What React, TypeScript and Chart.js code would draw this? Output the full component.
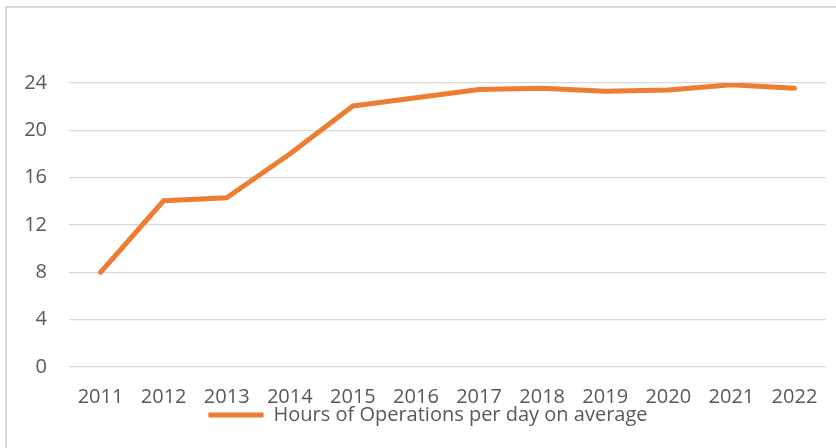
import React, { useEffect, useRef } from "react";
import { Chart, registerables } from "chart.js";

Chart.register(...registerables);

const years = ["2011", "2012", "2013", "2014", "2015", "2016", "2017", "2018", "2019", "2020", "2021", "2022"];
const hoursPerDay = [8.0, 14.05, 14.3, 18.0, 22.05, 22.75, 23.45, 23.55, 23.3, 23.4, 23.85, 23.55];
const seriesLabel = "Hours of Operations per day on average";
const yTicks = { min: 0, max: 24, step: 4 };

const legendShift = {
  id: "legendShift",
  afterLayout(chart: any) {
    const lg = chart.legend;
    if (lg) {
      lg.top -= 11;
      lg.bottom -= 11;
      lg.left += 15;
      lg.right += 15;
    }
  },
};

export default function App() {
  const canvasRef = useRef<HTMLCanvasElement | null>(null);

  useEffect(() => {
    if (!canvasRef.current) return;
    const font = { family: "'Open Sans', sans-serif", size: 20 };
    const chart = new Chart(canvasRef.current, {
      type: "line",
      data: {
        labels: years,
        datasets: [
          {
            label: seriesLabel,
            data: hoursPerDay,
            borderColor: "#ED7D31",
            backgroundColor: "#ED7D31",
            borderWidth: 5,
            borderCapStyle: "round",
            borderJoinStyle: "round",
            pointRadius: 0,
            pointHoverRadius: 0,
            pointStyle: "line",
            tension: 0,
          },
        ],
      },
      plugins: [legendShift],
      options: {
        animation: false,
        responsive: false,
        maintainAspectRatio: false,
        layout: { padding: { top: 83, right: 10, bottom: 2, left: 0 } },
        plugins: {
          tooltip: { enabled: false },
          legend: {
            display: true,
            position: "bottom",
            labels: {
              usePointStyle: true,
              pointStyleWidth: 55,
              boxHeight: 20,
              padding: 4,
              color: "#595959",
              font,
            },
          },
        },
        scales: {
          x: {
            offset: true,
            grid: { display: false, drawTicks: false },
            border: { display: false },
            ticks: { color: "#595959", font, padding: 18, maxRotation: 0, autoSkip: false },
            afterFit: (scale: any) => {
              scale.height = 45;
            },
          },
          y: {
            min: yTicks.min,
            max: yTicks.max,
            grid: { color: "#d9d9d9", lineWidth: 1.3, drawTicks: false },
            border: { display: false },
            ticks: { stepSize: yTicks.step, color: "#595959", font, padding: 22 },
            afterFit: (scale: any) => {
              scale.width = 69;
            },
          },
        },
      },
    });
    return () => chart.destroy();
  }, []);

  return (
    <div
      style={{
        position: "fixed",
        left: 0,
        top: 0,
        width: 836,
        height: 448,
        overflow: "hidden",
        background: "#ffffff",
      }}
    >
      <div
        style={{
          position: "absolute",
          left: 5,
          top: 6,
          width: 900,
          height: 600,
          borderLeft: "2px solid #d9d9d9",
          borderTop: "2px solid #d9d9d9",
        }}
      />
      <canvas ref={canvasRef} width={836} height={448} style={{ position: "absolute", left: 0, top: 0 }} />
    </div>
  );
}
